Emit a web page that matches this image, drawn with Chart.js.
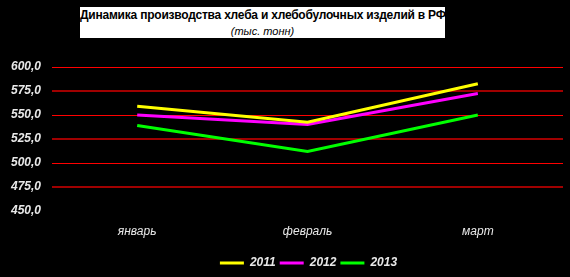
<!DOCTYPE html>
<html>
<head>
<meta charset="utf-8">
<script src="https://cdn.jsdelivr.net/npm/chart.js@4"></script>
<style>
    html, body { margin: 0; padding: 0; background: #000; }
    #wrap { position: relative; width: 570px; height: 277px; background: #000; }
    #chart { position: absolute; left: 0; top: 0; }
    .title-box {
        position: absolute; left: 80px; top: 7px; width: 365px; height: 31px;
        background: #fff; text-align: center; font-family: "Liberation Sans", Arial, sans-serif;
        color: #000; overflow: hidden;
    }
    .title-box .main { font-weight: bold; font-size: 12px; line-height: 14px; padding-top: 1px; white-space: nowrap; letter-spacing: -0.22px; }
    .title-box .sub { font-style: italic; font-size: 11px; line-height: 14px; padding-top: 2px; }
</style>
</head>
<body>
<div id="wrap">
    <canvas id="chart" width="570" height="277"></canvas>
    <div class="title-box">
        <div class="main">Динамика производства хлеба и хлебобулочных изделий в РФ</div>
        <div class="sub">(тыс. тонн)</div>
    </div>
</div>
<script>
// months on the x axis
const months = ['январь', 'февраль', 'март'];

// production, thousand tonnes
const series2011 = [559, 542.5, 582.5];
const series2012 = [550, 540, 572.5];
const series2013 = [539, 512, 550];

const seriesNames = ['2011', '2012', '2013'];
const seriesColors = ['#ffff00', '#ff00ff', '#00ff00'];

// y axis range
const yMin = 450;
const yMax = 600;
const yStep = 25;

// gridline look per tick, from 450 up to 600
const gridColors = ['rgba(0,0,0,0)', '#a00000', '#ff0000', '#a00000', '#ff0000', '#a00000', '#ff0000'];
const gridWidths = [1, 2, 1, 2, 1, 2, 1];

// move the legend a bit right and down, like in the original
const legendShift = {
    id: 'legendShift',
    afterLayout(chart) {
        const lg = chart.legend;
        if (lg) {
            lg.left += 27;
            lg.right += 27;
            lg.top += 4;
            lg.bottom += 4;
        }
    }
};

const ctx = document.getElementById('chart').getContext('2d');
new Chart(ctx, {
    type: 'line',
    data: {
        labels: months,
        datasets: [series2011, series2012, series2013].map((values, i) => ({
            label: seriesNames[i],
            data: values,
            borderColor: seriesColors[i],
            backgroundColor: seriesColors[i],
            borderWidth: 3,
            pointRadius: 0,
            tension: 0,
            fill: false
        }))
    },
    options: {
        responsive: false,
        animation: false,
        devicePixelRatio: 1,
        layout: {
            padding: { left: 0, right: 7, top: 67, bottom: 2 }
        },
        plugins: {
            title: { display: false },
            tooltip: { enabled: false },
            legend: {
                position: 'bottom',
                labels: {
                    color: '#e8e8e8',
                    font: { family: 'Liberation Sans', size: 12, weight: 'bold', style: 'italic' },
                    boxWidth: 24,
                    boxHeight: 3,
                    padding: 4,
                    generateLabels(chart) {
                        return chart.data.datasets.map((ds, i) => ({
                            text: ds.label,
                            fillStyle: ds.borderColor,
                            strokeStyle: ds.borderColor,
                            lineWidth: 0,
                            fontColor: '#e8e8e8',
                            datasetIndex: i
                        }));
                    }
                }
            }
        },
        scales: {
            x: {
                offset: true,
                grid: { display: false, drawTicks: false },
                border: { display: false },
                afterFit(scale) {
                    scale.height = 38;
                },
                ticks: {
                    color: '#e8e8e8',
                    padding: 13,
                    font: { family: 'Liberation Sans', size: 12, style: 'italic' }
                }
            },
            y: {
                min: yMin,
                max: yMax,
                border: { display: false },
                grid: {
                    drawTicks: false,
                    color: gridColors,
                    lineWidth: gridWidths
                },
                ticks: {
                    stepSize: yStep,
                    padding: 11,
                    color: '#e8e8e8',
                    font: { family: 'Liberation Sans', size: 12, weight: 'bold', style: 'italic' },
                    callback: (v) => v.toFixed(1).replace('.', ',')
                }
            }
        }
    },
    plugins: [legendShift]
});
</script>
</body>
</html>
